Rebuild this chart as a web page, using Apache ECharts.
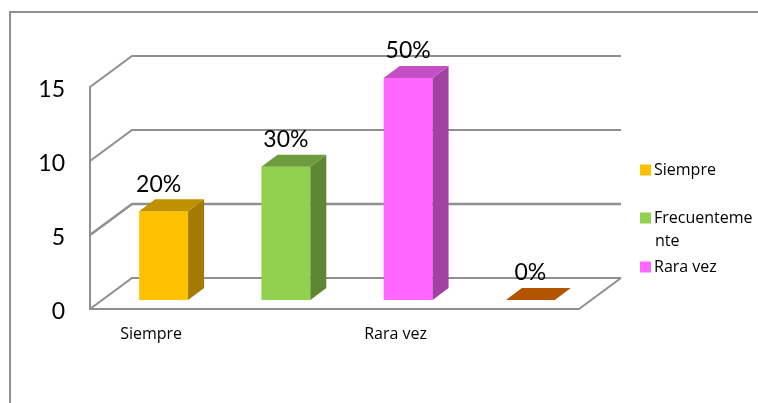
<!DOCTYPE html>
<html>
<head>
<meta charset="utf-8">
<style>html,body{margin:0;padding:0;background:#fff}#c{width:758px;height:403px}</style>
<script src="https://cdn.jsdelivr.net/npm/echarts@6/dist/echarts.min.js"></script>
</head>
<body>
<div id="c"></div>
<script>
const categories = ['Siempre', 'Frecuentemente', 'Rara vez', ''];
const values = [6, 9, 15, 0];
const percentLabels = ['20%', '30%', '50%', '0%'];
const wallTicks = [0, 5, 10, 15];
const seriesNames = ['Siempre', 'Frecuentemente', 'Rara vez', 'Otro'];
const frontColors = ['#FFC000', '#92D050', '#FF66FF', '#B35500'];
const topColors = ['#BF9000', '#6E9C3C', '#C550C5', '#B35500'];
const sideColors = ['#A37B00', '#5F8733', '#A340A3', '#B35500'];

const FONT = 'Lato';
const SMALL_FONT = '"Open Sans"';
const GRID = '#8f8f8f';
const DEPTH_X = 42, DEPTH_Y = -31;

function wallItem(params, api) {
  const cs = params.coordSys;
  const v = api.value(0);
  const y = api.coord([0, v])[1];
  const x0 = cs.x, x1 = cs.x + cs.width;
  const style = { stroke: GRID, lineWidth: v === 5 ? 2.5 : 2, fill: null };
  const children = [{
    type: 'polyline',
    shape: { points: [[x0, y], [x0 + DEPTH_X, y + DEPTH_Y], [x1 + DEPTH_X, y + DEPTH_Y]] },
    style
  }];
  if (v === 0) {
    children.push({
      type: 'polyline',
      shape: { points: [[x1, y], [x1 + DEPTH_X, y + DEPTH_Y]] },
      style
    });
  }
  return { type: 'group', children };
}

function barSeries(i) {
  return {
    type: 'custom',
    name: seriesNames[i],
    z: 3,
    itemStyle: { color: frontColors[i] },
    data: [[i, values[i]]],
    renderItem(params, api) {
      const band = api.size([1, 0])[0];
      const base = api.coord([api.value(0), 0]);
      const top = api.coord([api.value(0), api.value(1)]);
      const w = band * 0.4;
      const cx = base[0] + 12.5;
      const l = cx - w / 2, r = cx + w / 2;
      const b = base[1] - 9, t = top[1] - 9;
      const dx = 16, dy = -12;
      const poly = (points, fill) => ({ type: 'polygon', shape: { points }, style: { fill, stroke: null } });
      const children = [];
      if (b > t) {
        children.push(poly([[l, b], [r, b], [r, t], [l, t]], frontColors[i]));
        children.push(poly([[r, b], [r + dx, b + dy], [r + dx, t + dy], [r, t]], sideColors[i]));
      }
      children.push(poly([[l, t], [r, t], [r + dx, t + dy], [l + dx, t + dy]], topColors[i]));
      children.push({
        type: 'text',
        z2: 10,
        style: {
          text: percentLabels[i],
          x: cx + (i === 0 ? -5 : 0),
          y: t - 27,
          align: 'center',
          verticalAlign: 'middle',
          font: '23px ' + FONT,
          fill: '#000'
        }
      });
      return { type: 'group', children };
    }
  };
}

function legendAt(name, top) {
  return {
    show: true,
    data: [name],
    left: 640,
    top,
    orient: 'vertical',
    icon: 'rect',
    itemWidth: 11,
    itemHeight: 11,
    itemGap: 0,
    padding: 0,
    selectedMode: false,
    formatter: n => n === 'Frecuentemente' ? 'Frecuenteme' : n,
    textStyle: { fontFamily: 'Open Sans', fontSize: 16, color: '#000', padding: [0, 0, 0, -2] }
  };
}

const chart = echarts.init(document.getElementById('c'), null, { renderer: 'canvas' });
chart.setOption({
  animation: false,
  backgroundColor: '#fff',
  grid: { left: 90, right: 179, top: 87, bottom: 94, containLabel: false },
  xAxis: {
    type: 'category',
    data: categories,
    axisTick: { show: false },
    axisLine: { show: true, lineStyle: { color: GRID, width: 2 } },
    axisLabel: { interval: 1, margin: 17, fontFamily: 'Open Sans', fontSize: 16, color: '#000' }
  },
  yAxis: {
    type: 'value',
    min: 0,
    max: 15,
    interval: 5,
    axisTick: { show: false },
    splitLine: { show: false },
    axisLine: { show: true, lineStyle: { color: GRID, width: 2 } },
    axisLabel: {
      margin: 25,
      color: '#000',
      formatter: '{a|{value}}',
      rich: { a: { fontFamily: FONT, fontSize: 23, color: '#000', padding: [6, 0, 0, 0] } }
    }
  },
  legend: [legendAt('Siempre', 162), legendAt('Frecuentemente', 210), legendAt('Rara vez', 259)],
  graphic: [
    { type: 'polyline', shape: { points: [[10, 403], [10, 12], [758, 12]] }, style: { stroke: GRID, lineWidth: 2, fill: null } },
    { type: 'text', style: { text: 'nte', x: 655, y: 241, verticalAlign: 'middle', font: '16px ' + SMALL_FONT, fill: '#000' } }
  ],
  series: [
    { type: 'custom', name: 'wall', z: 1, data: wallTicks.map(v => [v]), encode: { y: 0 }, renderItem: wallItem },
    ...values.map((_, i) => barSeries(i))
  ]
});
</script>
</body>
</html>
